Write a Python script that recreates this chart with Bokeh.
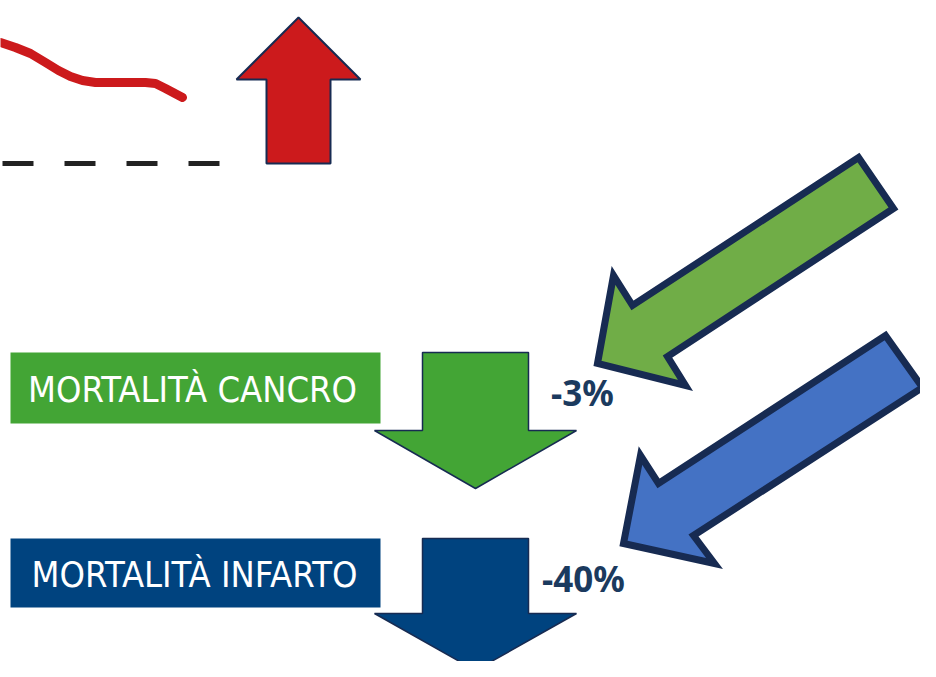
from bokeh.plotting import figure
from bokeh.models import Range1d
from bokeh.core.properties import value
from bokeh.embed import file_html
from bokeh.resources import INLINE

# ---- data ----
categories = ["MORTALITÀ CANCRO", "MORTALITÀ INFARTO"]
changes = ["-3%", "-40%"]
trend_x = [0, 15, 30, 45, 58, 70, 82, 95, 145, 155, 165, 182]
trend_y = [42, 47, 53, 62, 70, 76, 80, 82, 82, 83, 88, 97]
baseline_x = [2, 220]
baseline_y = [163, 163]

# ---- styles ----
RED = "#CC1A1C"
GREEN_BOX = "#43A535"
BLUE_BOX = "#00437F"
GREEN_ARROW = "#70AD47"
BLUE_ARROW = "#4472C4"
NAVY = "#172B52"
TEXT_NAVY = "#1B3A5E"
LABEL_FONT = "DejaVu Sans Condensed"
VALUE_FONT = "Noto Sans"

W, H = 920, 661
p = figure(width=W, height=H, output_backend="svg", toolbar_location=None,
           x_range=Range1d(0, W), y_range=Range1d(H, 0),
           min_border=0)
p.axis.visible = False
p.grid.visible = False
p.outline_line_color = None
p.background_fill_color = "white"

# trend line and dashed baseline
p.line(trend_x, trend_y, line_color=RED, line_width=9, line_cap="round", line_join="round")
p.line(baseline_x, baseline_y, line_color="#222222", line_width=5, line_dash="31 31")

# red up arrow
up = dict(cx=298, tip=17, head_base=79, half_head=62, half_shaft=32, bottom=163)
up_x = [up["cx"], up["cx"] + up["half_head"], up["cx"] + up["half_shaft"], up["cx"] + up["half_shaft"],
        up["cx"] - up["half_shaft"], up["cx"] - up["half_shaft"], up["cx"] - up["half_head"]]
up_y = [up["tip"], up["head_base"], up["head_base"], up["bottom"], up["bottom"], up["head_base"], up["head_base"]]
p.patch(up_x, up_y, fill_color=RED, line_color=NAVY, line_width=2)

# label boxes
box_left, box_right = 10, 380
box_tops = [352, 538]
box_bottoms = [423, 607]
box_colors = [GREEN_BOX, BLUE_BOX]
p.quad(left=[box_left] * 2, right=[box_right] * 2, top=box_tops, bottom=box_bottoms,
       fill_color=box_colors, line_color=None)
label_x = [192, 194]
label_y = [(t + b) / 2 + 1 for t, b in zip(box_tops, box_bottoms)]
p.text(label_x, label_y, text=categories, text_color="white", text_font=value(LABEL_FONT),
       text_font_size="36px", text_font_style="normal", text_align="center", text_baseline="middle")

# down arrows
down_xs, down_ys = [], []
for top, base, tip in [(352, 430, 488), (538, 613, 670)]:
    cx, hs, hh = 475, 53, 101
    down_xs.append([cx - hs, cx + hs, cx + hs, cx + hh, cx, cx - hh, cx - hs])
    down_ys.append([top, top, base, base, tip, base, base])
p.patches(down_xs, down_ys, fill_color=box_colors, line_color=NAVY, line_width=1.5)

# change labels
p.text([582, 583], [392, 578], text=changes, text_color=TEXT_NAVY, text_font=value(VALUE_FONT),
       text_font_size="35px", text_font_style="bold", text_align="center", text_baseline="middle")

# diagonal arrows
diag_xs = [[858, 893, 667, 685, 597, 613, 632],
           [885, 922, 693, 714, 623, 640, 658]]
diag_ys = [[157, 208, 356, 385, 363, 275, 305],
           [335, 387, 535, 563, 543, 455, 483]]
p.patches(diag_xs, diag_ys, fill_color=[GREEN_ARROW, BLUE_ARROW], line_color=NAVY,
          line_width=7, line_join="miter")

open("out.html", "w").write(file_html(p, INLINE))
